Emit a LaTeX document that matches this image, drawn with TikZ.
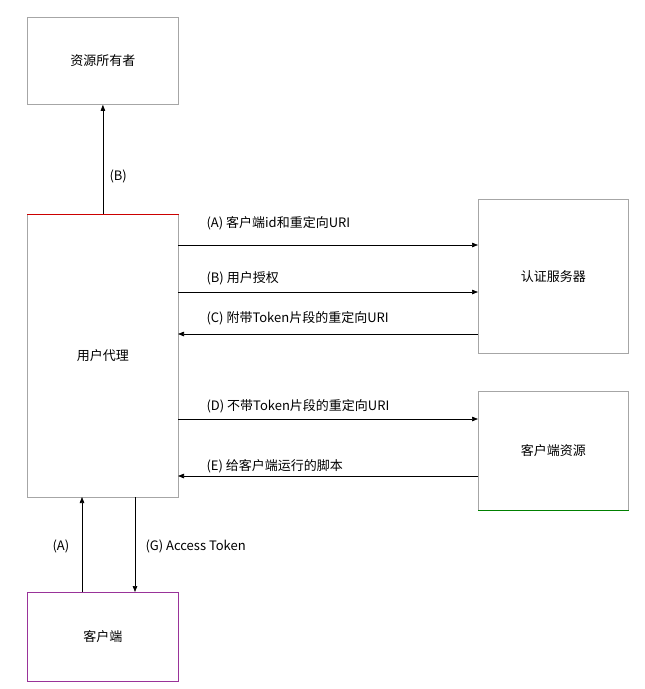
\documentclass[tikz,border=0pt]{standalone}
\usepackage{fontspec}
\setmainfont{Noto Sans CJK SC}
\usetikzlibrary{arrows.meta}
\tikzset{box/.style={draw=gray!70, line width=0.8pt, minimum width=151pt, anchor=north west, inner sep=0pt},
  flow/.style={-{Triangle[length=6pt,width=4.5pt]}, line width=0.7pt},
  lbl/.style={anchor=west, font=\fontsize{13}{15}\selectfont}}
\begin{document}
\begin{tikzpicture}[x=1pt, y=-1pt, font=\fontsize{13}{15}\selectfont]
  \useasboundingbox (0,0) rectangle (645,689);
  \node[box, minimum height=87pt] (owner) at (27,17) {资源所有者};
  \node[box, minimum height=283pt] (agent) at (27,214) {用户代理};
  \draw[red!80!black, line width=0.8pt] (agent.north west) -- (agent.north east);
  \node[box, minimum width=150pt, minimum height=154pt] (auth) at (478,199) {认证服务器};
  \node[box, minimum width=150pt, minimum height=119pt] (res) at (478,391) {客户端资源};
  \draw[green!50!black, line width=0.8pt] (res.south west) -- (res.south east);
  \node[box, draw=violet!80, minimum height=89pt] (client) at (27,592) {客户端};
  % arrows between boxes
  \draw[flow] (agent.north) -- (owner.south);
  \node[lbl] (lB) at (106,176) {(B)};
  \draw[flow] (178,245) -- (478,245);
  \node[lbl] (la) at (203,223) {(A) 客户端id和重定向URI};
  \draw[flow] (178,292) -- (478,292);
  \node[lbl] (lb) at (203,278) {(B) 用户授权};
  \draw[flow] (478,334) -- (178,334);
  \node[lbl] (lc) at (203,318) {(C) 附带Token片段的重定向URI};
  \draw[flow] (178,419) -- (478,419);
  \node[lbl] (ld) at (203,406) {(D) 不带Token片段的重定向URI};
  \draw[flow] (478,476) -- (178,476);
  \node[lbl] (le) at (203,466) {(E) 给客户端运行的脚本};
  \draw[flow] (82,592) -- (82,497);
  \node[lbl] (lA) at (49,546) {(A)};
  \draw[flow] (135,497) -- (135,592);
  \node[lbl] (lg) at (142,546) {(G) Access Token};
\end{tikzpicture}
\end{document}
